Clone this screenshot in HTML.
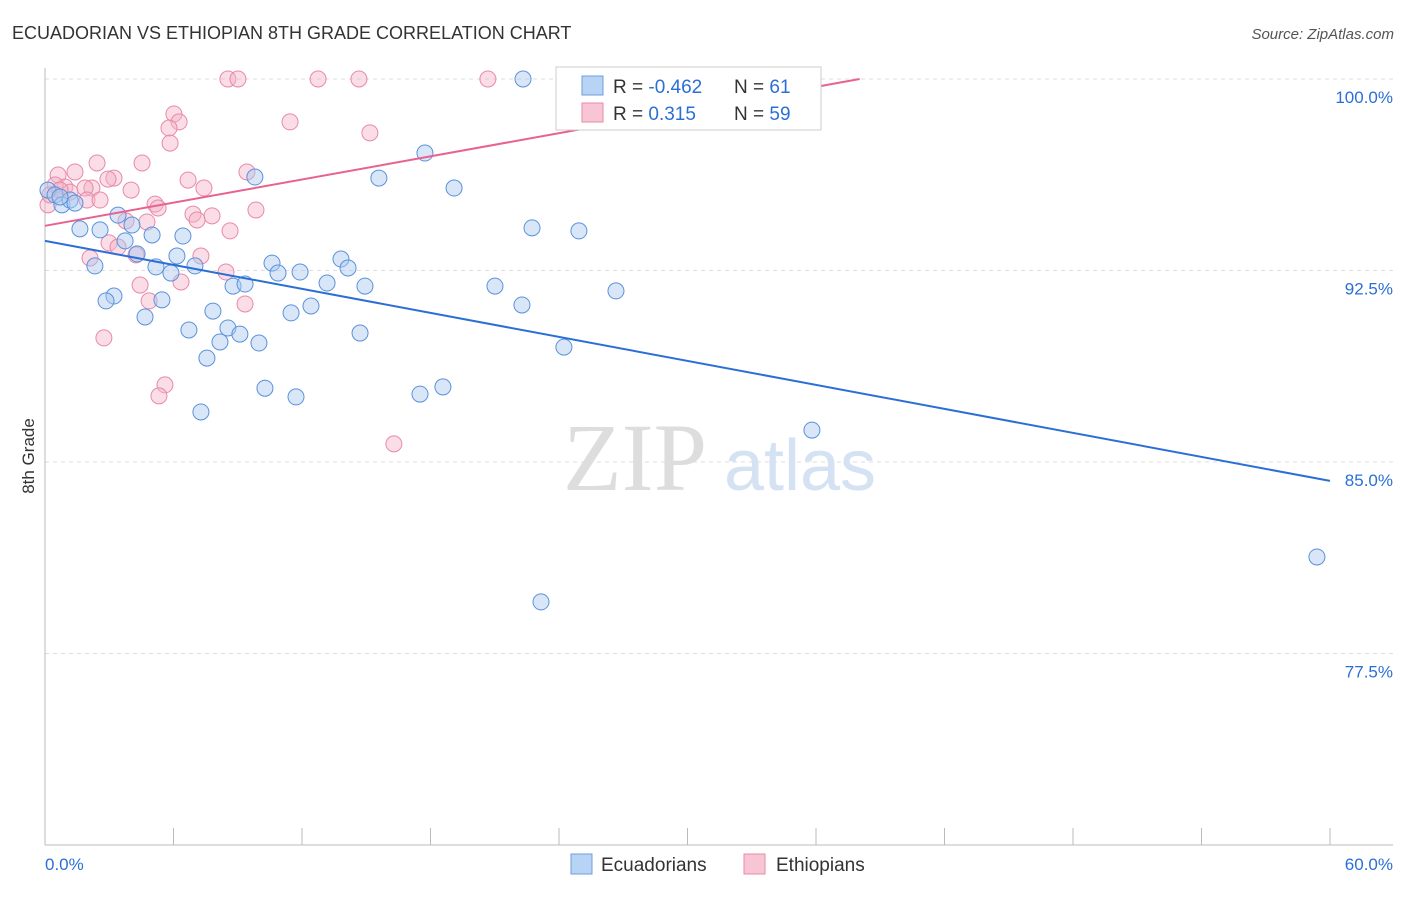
<!DOCTYPE html>
<html><head><meta charset="utf-8">
<style>
body{margin:0;background:#fff;font-family:"Liberation Sans",sans-serif;}
</style></head>
<body>
<svg width="1406" height="892" viewBox="0 0 1406 892" xmlns="http://www.w3.org/2000/svg">
<text x="12" y="39" font-size="18" fill="#333">ECUADORIAN VS ETHIOPIAN 8TH GRADE CORRELATION CHART</text>
<text x="1394" y="39" font-size="15" fill="#555" font-style="italic" text-anchor="end">Source: ZipAtlas.com</text>
<g id="grid"></g>
<g id="axes"></g>
<text x="635" y="490" font-size="96" fill="#ddd" font-family="Liberation Serif,serif" text-anchor="middle">ZIP</text>
<text x="800" y="490" font-size="72" fill="#d4e2f4" text-anchor="middle">atlas</text>
<g id="marks"></g>
<text x="34" y="456" font-size="17" fill="#333" text-anchor="middle" transform="rotate(-90 34 456)">8th Grade</text>
<g>
<rect x="556" y="67" width="265" height="63" fill="#fff" stroke="#ccc"/>
<rect x="582" y="76" width="21" height="19" fill="#b8d3f4" stroke="#6a9fe0"/>
<rect x="582" y="103" width="21" height="19" fill="#f8c5d5" stroke="#e88aa8"/>
<text x="613" y="93" font-size="19" fill="#333">R = <tspan fill="#2b6fd6">-0.462</tspan></text>
<text x="734" y="93" font-size="19" fill="#333">N = <tspan fill="#2b6fd6"> 61</tspan></text>
<text x="613" y="120" font-size="19" fill="#333">R = <tspan fill="#2b6fd6"> 0.315</tspan></text>
<text x="734" y="120" font-size="19" fill="#333">N = <tspan fill="#2b6fd6">59</tspan></text>
</g>
<g>
<rect x="571" y="854" width="21" height="20" fill="#b8d3f4" stroke="#6a9fe0"/>
<text x="601" y="871" font-size="19" fill="#333">Ecuadorians</text>
</g>
<g>
<rect x="744" y="854" width="21" height="20" fill="#f8c5d5" stroke="#e88aa8"/>
<text x="776" y="871" font-size="19" fill="#333">Ethiopians</text>
</g>
</svg>
<script>
const blueX=[22.32,17.74,9.80,15.59,19.10,0.14,0.47,0.79,1.17,1.40,3.41,4.06,1.63,2.57,5.00,6.44,3.74,22.74,24.93,4.30,6.16,2.33,5.18,5.88,7.00,10.60,10.88,11.91,13.82,14.15,13.17,14.94,8.78,9.34,21.01,26.66,3.22,2.85,5.46,12.42,7.84,11.49,22.27,4.67,6.72,8.54,9.10,8.17,9.99,14.71,24.23,7.56,10.27,11.72,17.51,18.58,7.28,35.81,59.39,23.16,0.70];
const blueY=[100,97.10,96.16,96.12,95.73,95.65,95.46,95.07,95.26,95.14,94.67,94.28,94.13,94.09,93.89,93.85,93.66,94.17,94.05,93.15,93.07,92.68,92.64,92.40,92.68,92.79,92.40,92.44,92.95,92.60,92.01,91.89,91.89,91.97,91.89,91.70,91.50,91.31,91.35,91.11,90.91,90.84,91.15,90.68,90.17,90.25,90.01,89.70,89.66,90.05,89.50,89.07,87.89,87.55,87.66,87.94,86.96,86.25,81.28,79.52,95.38];
const pinkX=[8.54,9.01,12.75,14.66,20.68,33.01,6.02,6.26,11.44,5.79,5.84,15.17,2.43,4.53,0.61,1.40,9.43,3.22,2.94,6.68,7.42,4.02,2.19,0.93,1.17,1.87,0.47,0.14,1.96,2.57,5.14,5.28,9.85,6.91,7.80,7.10,3.78,4.76,8.64,2.99,3.41,4.25,7.28,2.10,8.45,4.44,6.35,4.86,9.34,2.75,5.60,5.32,16.29,0.23,0.70];
const pinkY=[100,100,100,100,100,100,98.63,98.32,98.32,98.08,97.49,97.89,96.71,96.71,96.24,96.36,96.36,96.12,96.08,96.04,95.73,95.65,95.73,95.77,95.57,95.73,95.85,95.07,95.26,95.26,95.10,94.95,94.87,94.71,94.64,94.48,94.44,94.40,94.05,93.58,93.42,93.11,93.07,92.99,92.44,91.93,92.05,91.31,91.19,89.86,88.02,87.59,85.71,95.46,95.65];
const yTicks=[100,92.5,85,77.5];
const yTickLabels=["100.0%","92.5%","85.0%","77.5%"];
const blueTrend=[93.66,84.26];
const pinkTrend=[94.25,103.32];
const NS="http://www.w3.org/2000/svg";
const X=v=>45+v/60*1285;
const Y=v=>79+(100-v)/7.5*191.5;
function mk(t,a,p){const e=document.createElementNS(NS,t);for(const k in a)e.setAttribute(k,a[k]);p.appendChild(e);return e;}
const grid=document.getElementById('grid'),axes=document.getElementById('axes'),marks=document.getElementById('marks');
yTicks.forEach((v,i)=>{
 const l=mk('line',{x1:45,x2:1393,y1:Y(v),y2:Y(v),stroke:'#ddd','stroke-dasharray':'4 4'},grid);
 
 
 const t=mk('text',{x:1393,y:Y(v)+24,'font-size':17,fill:'#2b6fd6','text-anchor':'end'},axes);
 t.textContent=yTickLabels[i];
 
 
});
mk('line',{x1:45,x2:45,y1:68,y2:845,stroke:'#bbb'},axes);
mk('line',{x1:45,x2:1393,y1:845,y2:845,stroke:'#bbb'},axes);
for(let i=0;i<=10;i++){const tk=mk('line',{x1:X(i*6),x2:X(i*6),y1:828,y2:845,stroke:'#bbb'},axes);
 
 }
[["0.0%",45,'start'],["60.0%",1393,'end']].forEach(a=>{const t=mk('text',{x:a[1],y:870,'font-size':17,fill:'#2b6fd6','text-anchor':a[2]},axes);t.textContent=a[0];
 
 });
function dots(xs,ys,fill,stroke,name){xs.forEach((x,i)=>{const c=mk('circle',{cx:X(x),cy:Y(ys[i]),r:8,fill:fill,'fill-opacity':0.45,stroke:stroke,'stroke-width':1},marks);
 
 });}
dots(pinkX,pinkY,'#f5b3c8','#e88aa8','ethiopian-point');
dots(blueX,blueY,'#a9c8f0','#5a92dc','ecuadorian-point');
const bl=mk('line',{x1:X(0),y1:Y(blueTrend[0]),x2:X(60),y2:Y(blueTrend[1]),stroke:'#2b6fd6','stroke-width':2},marks);


const slope=(pinkTrend[1]-pinkTrend[0])/60;const xEnd=Math.min(60,(100-pinkTrend[0])/slope);
const pl=mk('line',{x1:X(0),y1:Y(pinkTrend[0]),x2:X(xEnd),y2:Y(pinkTrend[0]+slope*xEnd),stroke:'#e8628f','stroke-width':2},marks);


</script>
</body></html>
